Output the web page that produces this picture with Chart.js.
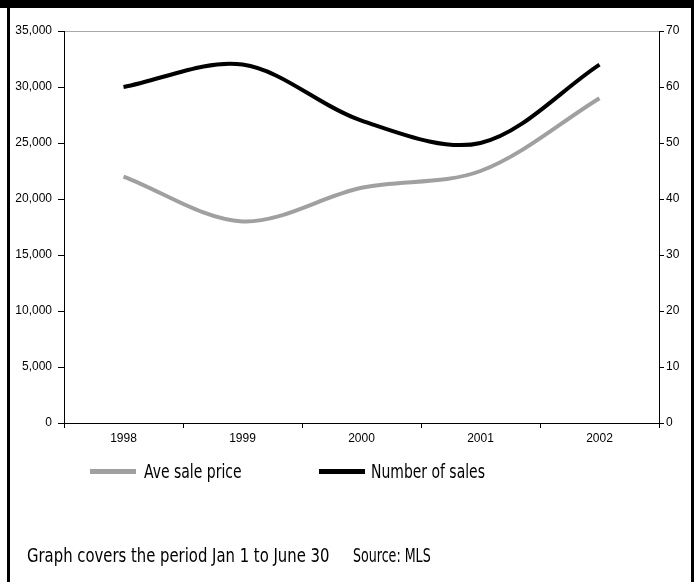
<!DOCTYPE html>
<html>
<head>
<meta charset="utf-8">
<script src="https://cdn.jsdelivr.net/npm/chart.js@4/dist/chart.umd.min.js"></script>
<style>
  html, body { margin: 0; padding: 0; background: #fff; }
  #wrap { position: relative; width: 694px; height: 582px; overflow: hidden; background: #fff; }
  #chartBox { position: absolute; left: 0; top: 0; width: 694px; height: 582px; }
  #topbar { position: absolute; left: 0; top: 0; width: 694px; height: 8px; background: #000; }
  #lborder { position: absolute; left: 7px; top: 0; width: 3px; height: 582px; background: #000; }
  #rborder { position: absolute; left: 691px; top: 0; width: 3px; height: 582px; background: #000; }
  .txt { position: absolute; white-space: nowrap; font-family: "Liberation Sans Narrow", "DejaVu Sans Condensed", "Liberation Sans", sans-serif; font-stretch: condensed; font-size: 20px; color: #000; line-height: 1; transform-origin: 0 50%; }
  .sw { position: absolute; height: 5px; }
</style>
</head>
<body>
<div id="wrap">
  <div id="chartBox"><canvas id="c"></canvas></div>
  <div id="topbar"></div>
  <div id="lborder"></div>
  <div id="rborder"></div>
  <div id="legend"></div>
  <div id="footer"></div>
</div>
<script>
// ---- data ----
const categories = ['1998', '1999', '2000', '2001', '2002'];
const avePrice = [22000, 18000, 21000, 22500, 29000];
const numSales = [60, 64, 54, 50, 64];
const seriesNames = ['Ave sale price', 'Number of sales'];
const leftTicks = { min: 0, max: 35000, step: 5000 };
const rightTicks = { min: 0, max: 70, step: 10 };
const footerTexts = ['Graph covers the period Jan 1 to June 30', 'Source: MLS'];

const colors = ['#a0a0a0', '#000000'];
const tickFont = { family: 'Liberation Sans, Arial, sans-serif', size: 12 };

// ---- chart ----
const ctx = document.getElementById('c');
new Chart(ctx, {
  type: 'line',
  data: {
    labels: categories,
    datasets: [
      { label: seriesNames[0], data: avePrice, yAxisID: 'y', borderColor: colors[0], borderWidth: 4, pointRadius: 0, tension: 0.33, fill: false },
      { label: seriesNames[1], data: numSales, yAxisID: 'y1', borderColor: colors[1], borderWidth: 4, pointRadius: 0, tension: 0.33, fill: false }
    ]
  },
  options: {
    responsive: true,
    maintainAspectRatio: false,
    animation: false,
    layout: { padding: { left: 0, right: 0, top: 31, bottom: 134 } },
    plugins: { legend: { display: false }, tooltip: { enabled: false }, title: { display: false } },
    scales: {
      x: {
        type: 'category',
        offset: true,
        grid: { offset: true, drawOnChartArea: false, tickLength: 5, tickColor: '#000', color: '#000' },
        border: { color: '#000', width: 1 },
        ticks: { color: '#000', padding: 3, font: tickFont, maxRotation: 0 },
        afterFit: (s) => { s.height = 25; }
      },
      y: {
        position: 'left',
        min: leftTicks.min, max: leftTicks.max,
        grid: {
          drawOnChartArea: true,
          color: (c) => (c.tick && c.tick.value === leftTicks.max) ? '#a8a8a8' : 'rgba(0,0,0,0)',
          tickColor: '#000', tickLength: 6
        },
        border: { color: '#000', width: 1 },
        ticks: {
          stepSize: leftTicks.step, color: '#000', padding: 6, font: tickFont,
          callback: (v) => v.toLocaleString('en-US')
        },
        afterFit: (s) => { s.width = 64; }
      },
      y1: {
        position: 'right',
        min: rightTicks.min, max: rightTicks.max,
        grid: { drawOnChartArea: false, tickColor: '#000', tickLength: 5 },
        border: { color: '#000', width: 1 },
        ticks: { stepSize: rightTicks.step, color: '#000', padding: 2, font: tickFont },
        afterFit: (s) => { s.width = 35; }
      }
    }
  }
});

// ---- legend & footer as HTML text ----
function addText(parent, text, left, centerY, targetW) {
  const el = document.createElement('span');
  el.className = 'txt';
  el.textContent = text;
  el.style.left = left + 'px';
  parent.appendChild(el);
  const h = el.offsetHeight;
  el.style.top = (centerY - h / 2) + 'px';
  const w = el.offsetWidth;
  if (w > 0) el.style.transform = 'scaleX(' + (targetW / w) + ')';
  return el;
}
function addSwatch(parent, color, left, centerY, w) {
  const el = document.createElement('div');
  el.className = 'sw';
  el.style.background = color;
  el.style.left = left + 'px';
  el.style.width = w + 'px';
  el.style.top = (centerY - 2.5) + 'px';
  parent.appendChild(el);
}
const lg = document.getElementById('legend');
addSwatch(lg, colors[0], 90, 471, 46);
addText(lg, seriesNames[0], 144, 471, 98);
addSwatch(lg, colors[1], 319, 471, 46);
addText(lg, seriesNames[1], 371, 471, 114);
const ft = document.getElementById('footer');
addText(ft, footerTexts[0], 27, 555, 302);
addText(ft, footerTexts[1], 353, 555, 78);
</script>
</body>
</html>
